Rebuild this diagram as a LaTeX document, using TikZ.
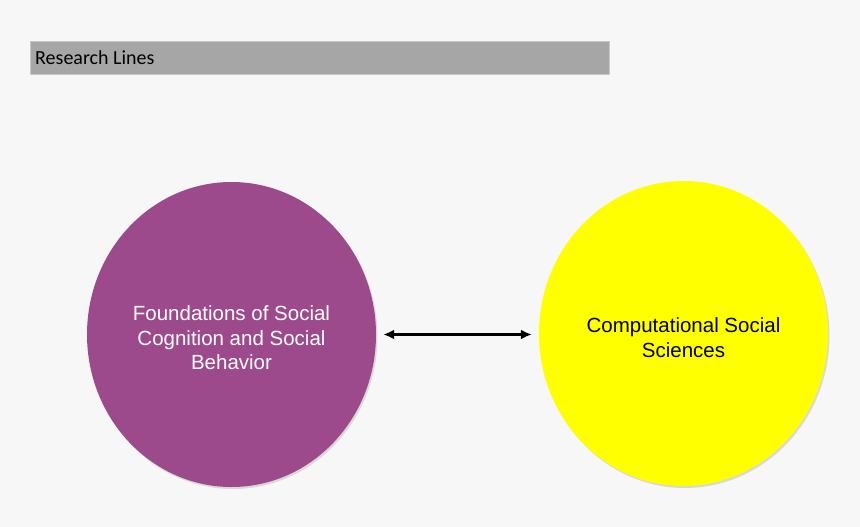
\documentclass[tikz,border=0pt]{standalone}
\usepackage{fontspec}
\setmainfont{Liberation Sans}
\newfontfamily\barfont{Carlito}
\usepackage{xcolor}
\usepackage{tikz}
\usetikzlibrary{positioning,calc,shapes.geometric,arrows.meta,shadows}
\definecolor{PageGray}{HTML}{F7F7F7}
\definecolor{BarGray}{HTML}{A6A6A6}
\definecolor{BarEdge}{HTML}{C8C8C8}
\definecolor{PlumFill}{HTML}{9C4A8B}
\definecolor{LemonFill}{HTML}{FFFF00}

\tikzset{
  linebubble/.style={ellipse, minimum width=289pt, minimum height=305pt, inner sep=0pt,
    drop shadow={shadow xshift=1.5pt, shadow yshift=-2pt, opacity=0.25}},
  bubbletext/.style={align=center, inner sep=0pt, font=\fontsize{20.5}{24.5}\selectfont},
  linkarrow/.style={line width=2.4pt, {Latex[length=11pt,width=10pt]}-{Latex[length=11pt,width=10pt]},
    shorten <=7pt, shorten >=7pt}
}

\begin{document}
\begin{tikzpicture}[x=1pt, y=-1pt]
    % page background
    \fill[PageGray] (0,0) rectangle (860,527);
    \useasboundingbox (0,0) rectangle (860,527);

    \node[draw=BarEdge, fill=BarGray, minimum width=579pt, minimum height=33pt, inner sep=0pt, anchor=north west] (bar) at (30,41) {};
    \node[anchor=west, inner sep=0pt, font=\barfont\fontsize{20}{24}\selectfont] (bartitle) at ($(bar.west)+(5,0)$) {Research Lines};

    \node[linebubble, fill=PlumFill] (social) at (231.5,334.5) {};
    \node[linebubble, fill=LemonFill] (compute) at (683.5,333.5) {};
    \node[bubbletext, text=white] (socialtext) at ($(social.center)+(0,3.5)$) {Foundations of Social\\Cognition and Social\\Behavior};
    \node[bubbletext, text=black] (computetext) at ($(compute.center)+(0,4)$) {Computational Social\\Sciences};

    \draw[linkarrow] (social.east) -- (social.east -| compute.west);
  \end{tikzpicture}
\end{document}
